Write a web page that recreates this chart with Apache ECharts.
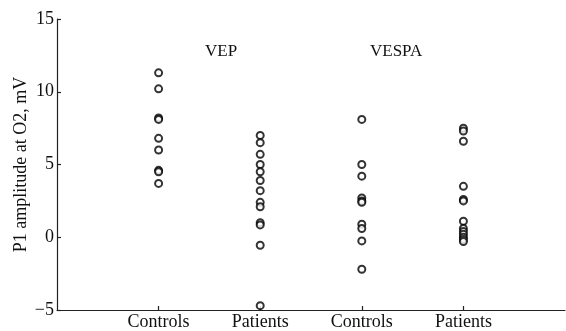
<!DOCTYPE html>
<html>
<head>
<meta charset="utf-8">
<script src="https://cdn.jsdelivr.net/npm/echarts@6/dist/echarts.min.js"></script>
<style>
  html, body { margin: 0; padding: 0; background: #fff; }
  #chart { width: 566px; height: 331px; }
</style>
</head>
<body>
<div id="chart"></div>
<script>
// Group labels along the x axis (positions 1..4)
var categories = ['Controls', 'Patients', 'Controls', 'Patients'];
var yTicks = [-5, 0, 5, 10, 15];

// P1 amplitude at O2 (mV) per group
var vepControls = [11.3, 10.2, 8.2, 8.1, 6.8, 6.0, 4.6, 4.5, 3.7];
var vepPatients = [7.0, 6.5, 5.7, 5.0, 4.5, 3.9, 3.2, 2.4, 2.1, 1.0, 0.85, -0.55, -4.7];
var vespaControls = [8.1, 5.0, 4.2, 2.7, 2.5, 2.4, 0.9, 0.6, -0.25, -2.2];
var vespaPatients = [7.5, 7.3, 6.6, 3.5, 2.6, 2.5, 1.1, 0.6, 0.4, 0.2, 0.0, -0.15, -0.3];

var groups = [vepControls, vepPatients, vespaControls, vespaPatients];

var FONT = '"Liberation Serif", "DejaVu Serif", serif';

function toPoints(values, pos) {
  return values.map(function (v) { return [pos, v]; });
}

var series = groups.map(function (vals, i) {
  return {
    type: 'scatter',
    symbol: 'emptyCircle',
    symbolSize: 7,
    itemStyle: { color: '#000', borderWidth: 1.1 },
    data: toPoints(vals, i + 1),
    silent: true
  };
});

var chart = echarts.init(document.getElementById('chart'), null, { renderer: 'canvas' });
chart.setOption({
  animation: false,
  backgroundColor: '#fff',
  grid: { left: 57, right: 1, top: 19, bottom: 21, containLabel: false, outerBoundsMode: 'none' },
  xAxis: {
    type: 'value',
    min: 0,
    max: 5,
    interval: 1,
    splitLine: { show: false },
    axisLine: { show: true, onZero: false, lineStyle: { color: '#222', width: 1.2 } },
    axisTick: { show: true, inside: true, length: 4, customValues: [1, 2, 3, 4], lineStyle: { color: '#222', width: 1.2 } },
    axisLabel: {
      customValues: [1, 2, 3, 4],
      formatter: function (v) { return categories[Math.round(v) - 1] || ''; },
      color: '#111',
      fontFamily: FONT,
      fontSize: 18,
      margin: 3
    }
  },
  yAxis: {
    type: 'value',
    min: -5,
    max: 15,
    interval: 5,
    name: 'P1 amplitude at O2, mV',
    nameLocation: 'middle',
    nameRotate: 90,
    nameGap: 27,
    nameMoveOverlap: false,
    nameTextStyle: { color: '#111', fontFamily: FONT, fontSize: 18 },
    splitLine: { show: false },
    axisLine: { show: true, onZero: false, lineStyle: { color: '#222', width: 1.2 } },
    axisTick: { show: true, inside: true, length: 4, lineStyle: { color: '#222', width: 1.2 } },
    axisLabel: {
      customValues: yTicks,
      formatter: function (v) { return String(v).replace('-', '\u2212'); },
      color: '#111',
      fontFamily: FONT,
      fontSize: 18,
      margin: 3
    }
  },
  graphic: [
    { type: 'text', left: 205, top: 43, style: { text: 'VEP', font: '17px ' + FONT, fill: '#111' } },
    { type: 'text', left: 370, top: 43, style: { text: 'VESPA', font: '17px ' + FONT, fill: '#111' } }
  ],
  series: series
});
</script>
</body>
</html>
